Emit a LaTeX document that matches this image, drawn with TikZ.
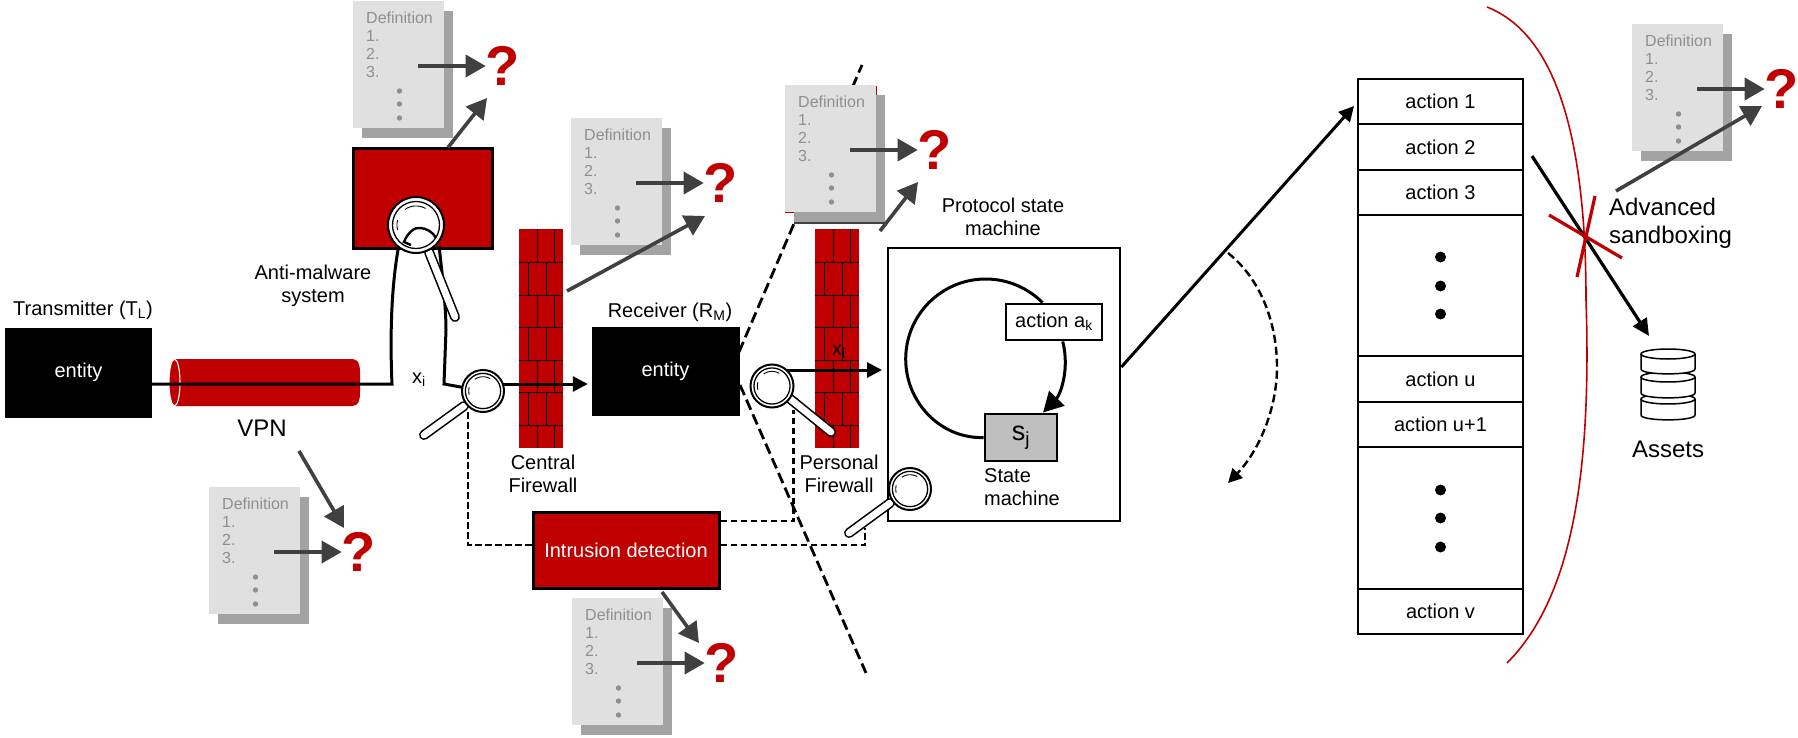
\documentclass[tikz,border=0pt]{standalone}
\usepackage{fontspec}
\setmainfont{Liberation Sans}
\usetikzlibrary{arrows.meta}
\definecolor{wred}{HTML}{C00000}
\definecolor{docfront}{HTML}{E0E0E0}
\definecolor{docback}{HTML}{A3A3A3}
\definecolor{doctext}{HTML}{8F8F8F}
\definecolor{darrow}{HTML}{404040}
\definecolor{stategray}{HTML}{BFBFBF}
\tikzset{
  lbl/.style={font=\fontsize{20}{23}\selectfont, inner sep=0pt, align=center, text=black},
  biglbl/.style={font=\fontsize{24}{28}\selectfont, inner sep=0pt, align=left, text=black},
  boxed/.style={draw=black, line width=2.8pt, inner sep=0pt},
  entitybox/.style={fill=black, draw=black, line width=0.5pt, inner sep=0pt, text=white, font=\fontsize{20}{23}\selectfont},
  redbox/.style={fill=wred, draw=black, line width=3pt, inner sep=0pt, text=white, font=\fontsize{20}{23}\selectfont},
  rowbox/.style={draw=black, line width=2.6pt, inner sep=0pt, minimum width=165pt, font=\fontsize{20}{23}\selectfont},
  flow/.style={draw=black, line width=3pt},
  flowtip/.style={flow, -{Triangle[length=15pt,width=15pt]}},
  qarrow/.style={draw=darrow, line width=3.6pt, -{Triangle[length=20pt,width=22pt]}},
  longdash/.style={draw=black, line width=2.8pt, dash pattern=on 11pt off 5pt},
  shortdash/.style={draw=black, line width=2.8pt, dash pattern=on 6.5pt off 3.5pt},
  docnum/.style={font=\fontsize{16}{18}\selectfont, text=doctext, inner sep=0pt, anchor=west},
  docpage/.style={minimum width=91pt, minimum height=127pt, inner sep=0pt, anchor=north west},
  qmark/.style={font=\fontsize{56}{56}\selectfont\bfseries, text=wred, inner sep=0pt},
  docdot/.style={circle, fill=doctext, inner sep=0pt, minimum size=5.4pt},
  bigdot/.style={circle, fill=black, inner sep=0pt, minimum size=11pt},
}
\newcommand{\docstack}[3]{%
  \node[docpage, fill=docback] (#1back) at (#2+9,#3+10) {};
  \node[docpage, fill=docfront] (#1front) at (#2,#3) {};
  \node[docnum] (#1t0) at (#2+13,#3+17) {Definition};
  \node[docnum] (#1t1) at (#2+13,#3+35) {1.};
  \node[docnum] (#1t2) at (#2+13,#3+53) {2.};
  \node[docnum] (#1t3) at (#2+13,#3+71) {3.};
  \node[docdot] (#1d1) at (#2+46.5,#3+90) {};
  \node[docdot] (#1d2) at (#2+46.5,#3+103) {};
  \node[docdot] (#1d3) at (#2+46.5,#3+117) {};
  \node[qmark] (#1q) at (#2+150,#3+65) {?};
  \coordinate (#1from) at (#2+65,#3+65);
  \draw[qarrow] (#1from) -- (#1q.west);
}
\newcommand{\firewall}[2]{%
  \node[fill=wred, minimum width=44pt, minimum height=219pt, inner sep=0pt, anchor=north west] (#1) at (#2,229) {};
  \foreach \yy in {262,295,327,360,392,425}{\draw[line width=0.9pt] (#2,\yy) -- (#2+44,\yy);}
  \foreach \aa/\bb in {229/262,295/327,360/392,425/448}{
    \draw[line width=0.9pt] (#2+18,\aa) -- (#2+18,\bb);
    \draw[line width=0.9pt] (#2+35.5,\aa) -- (#2+35.5,\bb);}
  \foreach \aa/\bb in {262/295,327/360,392/425}{
    \draw[line width=0.9pt] (#2+9,\aa) -- (#2+9,\bb);
    \draw[line width=0.9pt] (#2+27,\aa) -- (#2+27,\bb);}
}
% name, cx, cy, radius, handle start x,y, handle end x,y
\newcommand{\magnifier}[8]{%
  \draw[line width=10pt, line cap=round, black] (#5,#6) -- (#7,#8);
  \draw[line width=6.8pt, line cap=round, white] (#5,#6) -- (#7,#8);
  \node[circle, draw=black, fill=white, line width=2pt, minimum size=#4*2pt, inner sep=0pt] (#1) at (#2,#3) {};
  \node[circle, draw=black, line width=1.3pt, minimum size=#4*1.68pt, inner sep=0pt] (#1in) at (#2,#3) {};
  \draw[line width=0.9pt] plot[domain=60:125,samples=12] ({#2+#4*0.68*cos(\x)},{#3-#4*0.68*sin(\x)});
  \draw[line width=0.9pt] plot[domain=165:195,samples=6] ({#2+#4*0.68*cos(\x)},{#3-#4*0.68*sin(\x)});
}
\newcommand{\dbdisk}[2]{%
  \draw[fill=white, line width=1.5pt] (1641,#1) -- (1641,#2) .. controls (1641,#2+6.5) and (1695,#2+6.5) .. (1695,#2) -- (1695,#1);
  \draw[fill=white, line width=1.5pt] (1668,#1) ellipse [x radius=27pt, y radius=5pt];
}
\begin{document}
\begin{tikzpicture}[x=1pt,y=-1pt]
\useasboundingbox (0,0) rectangle (1798,738);

% long dashed boundary
\node[entitybox, minimum width=147pt, minimum height=88pt] (rx) at (665.5,371) {entity};
\coordinate (dashtop) at (862,65);
\coordinate (dashbot) at (866,673);
\draw[longdash] (739,352) -- (dashtop);
\draw[longdash] (740,385) -- (dashbot);

% red barrier
\draw[wred, line width=1.6pt] (1487,7) .. controls (1545,30) and (1586,110) .. (1586,300) .. controls (1592,480) and (1570,600) .. (1507,663);

% stacks of definitions
\fill[wred] (785,86.5) rectangle (877,212.5);
\docstack{sc}{785}{85}
\draw[darrow, line width=1.2pt] (794,223) -- (885,223);
\docstack{sa}{353}{1}
\docstack{sb}{571}{118}
\docstack{sd}{209}{487}
\docstack{se}{572}{598}
\docstack{sf}{1632}{24}

% firewalls
\firewall{cfw}{519}
\firewall{pfw}{815}
\node[lbl] (cfwl) at (543,473.5) {Central\\Firewall};
\node[lbl] (pfwl) at (839,473.5) {Personal\\Firewall};

% VPN
\path[fill=wred] (174.5,359) -- (352,359) .. controls (358,359) and (360,364) .. (360,372) -- (360,393) .. controls (360,401) and (358,406) .. (352,406) -- (174.5,406) .. controls (171,406) and (169,395) .. (169,382.5) .. controls (169,370) and (171,359) .. (174.5,359) -- cycle;
\draw[white, line width=1.1pt] (174.5,382.5) ellipse [x radius=5.5pt, y radius=23.5pt];
\node[biglbl] (vpnl) at (262,428) {VPN};

% entities
\node[entitybox, minimum width=146pt, minimum height=89pt] (tx) at (78.5,372.5) {entity};
\node[lbl] (txl) at (83,310) {Transmitter (T\textsubscript{L})};
\node[lbl] (rxl) at (670,312) {Receiver (R\textsubscript{M})};

% anti-malware
\node[redbox, minimum width=139.5pt, minimum height=99pt] (am) at (423,198.5) {};
\node[lbl] (aml) at (313,285.5) {Anti-malware\\system};
\node[lbl] (xi1) at (419,380) {x\textsubscript{i}};
\node[lbl] (xi2) at (839,352) {x\textsubscript{i}};

% intrusion detection
\node[redbox, minimum width=186pt, minimum height=76pt] (ids) at (626,550) {Intrusion detection};

% lens centres and connectors
\coordinate (l2c) at (483,391);
\coordinate (l3c) at (772,386);
\coordinate (tout) at (151,384);
\coordinate (amin) at (398,250);
\coordinate (amout) at (439,246);
\draw[flow, line join=miter] (tout) -- (392,384) .. controls (390,340) and (391,290) .. (amin);
\draw[flow, line join=miter] (amout) .. controls (443,280) and (446,310) .. (446,330) -- (444,384) -- (l2c);
\draw[flowtip, shorten >=4pt] (l2c |- 0,384) -- (rx.west |- 0,384);
\draw[flowtip] (l3c |- 0,370) -- (882,370);

% dashed monitors
\coordinate (d2) at (468,412);
\coordinate (d3) at (793.7,410);
\coordinate (d4) at (865,528);
\draw[shortdash] (d2) -- (468,545) -- (ids.west |- 0,545);
\draw[shortdash] (ids.east |- 0,521) -- (793.7,521) -- (d3);
\draw[shortdash] (ids.east |- 0,545) -- (865,545) -- (d4);

% protocol state machine
\node[boxed, minimum width=232pt, minimum height=273pt] (psm) at (1004,384.5) {};
\node[lbl] (psml) at (1003,216.5) {Protocol state\\machine};
\node[boxed, fill=stategray, minimum width=72pt, minimum height=47pt, font=\fontsize{27}{27}\selectfont] (sj) at (1021,437.5) {s\textsubscript{j}};
\node[boxed, fill=white, minimum width=96pt, minimum height=36pt, font=\fontsize{20}{23}\selectfont] (ak) at (1054,322) {action a\textsubscript{k}};
\node[lbl, align=left, anchor=west] (sjl) at (984,487) {State\\machine};
\draw[flow] (sj.west) .. controls (941.5,439) and (905.7,403.2) .. (905.7,359) .. controls (905.7,314.8) and (941.5,279) .. (985.7,279) .. controls (1006.9,279) and (1027.3,287.4) .. (ak.north -| 1042.5,0);
\draw[flow, -{Triangle[length=20pt,width=21pt]}] (ak.south -| 1062.7,0) .. controls (1070,370) and (1060,395) .. (sj.north -| 1043,0);

% lenses
\magnifier{l1}{416}{225}{28}{429}{252}{455}{317}
\draw[line width=2.4pt] (411,245) -- (404,242) .. controls (408,232) and (415,227) .. (420,228) .. controls (426,228) and (433,232) .. (436,238);
\magnifier{l2}{483}{391}{21}{464}{406}{424}{435}
\magnifier{l3}{772}{386}{21.5}{789}{398}{831}{432}
\magnifier{l4}{910}{489}{21}{890}{503}{849}{533}

% arrows to question marks
\draw[qarrow] (am.north -| 448,0) -- (487,98);
\draw[qarrow] (567,291) -- (705,216);
\draw[qarrow] (880,231) -- (918,182);
\draw[qarrow] (299,451) -- (344,528);
\draw[qarrow] (662,592) -- (699,643);
\draw[qarrow] (1616,191) -- (1762,106);

% action list
\foreach \nm/\aa/\bb/\tx in {r1/79/124/action 1, r2/124/170/action 2, r3/170/215/action 3, r4/215/356/, r5/356/402/action u, r6/402/447/action u+1, r7/447/589/, r8/589/634/action v}{
  \pgfmathsetmacro{\mid}{(\aa+\bb)/2}
  \pgfmathsetmacro{\hh}{\bb-\aa}
  \node[rowbox, minimum height=\hh pt, text depth=-1pt] (\nm) at (1440.5,\mid) {\tx};
}
\foreach \nm/\yy in {u1/257,u2/286,u3/314,v1/490,v2/518,v3/547}{\node[bigdot] (\nm) at (1440.5,\yy) {};}

% link from machine to action list
\draw[flow, -{Triangle[length=15pt,width=15pt]}] (psm.east |- 0,367) -- (1354,106);
\coordinate (swA) at (1228,253);
\coordinate (swB) at (1228,483);
\draw[draw=black, line width=2.4pt, dash pattern=on 8pt off 4pt, -{Triangle[length=14pt,width=14pt]}] (swA) .. controls (1262,280) and (1277,325) .. (1277,367) .. controls (1277,410) and (1258,452) .. (swB);

% sandboxing and assets
\node[biglbl, anchor=west] (sbl) at (1609,223.5) {Advanced\\sandboxing};
\node[biglbl] (asl) at (1668,449) {Assets};
\dbdisk{399}{415}
\dbdisk{377}{393}
\dbdisk{354}{369}
\coordinate (atk) at (1532,156);
\coordinate (db) at (1649,336);
\draw[flow, line width=3.2pt, -{Triangle[length=17pt,width=16pt]}] (atk) -- (db);
\draw[wred, line width=3.2pt] (1595,196) -- (1577,277);
\draw[wred, line width=3.2pt] (1549,215) -- (1622,258);
\end{tikzpicture}
\end{document}
